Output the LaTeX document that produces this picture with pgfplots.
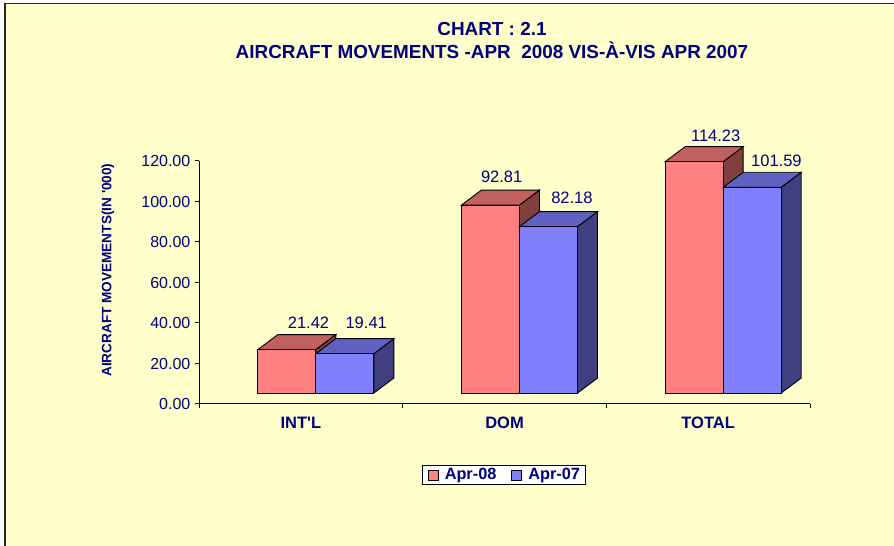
\documentclass[border=0pt]{standalone}
\usepackage{fontspec}
\setmainfont{Liberation Sans}
\usepackage{pgfplots}
\pgfplotsset{compat=1.18}
\definecolor{bg}{HTML}{FFFFCC}
\definecolor{navy}{HTML}{000080}
\definecolor{redF}{HTML}{FF8080}
\definecolor{redT}{HTML}{C06060}
\definecolor{redS}{HTML}{804040}
\definecolor{bluF}{HTML}{8080FF}
\definecolor{bluT}{HTML}{6060C0}
\definecolor{bluS}{HTML}{404080}
\pgfplotsset{
  face/.style={draw=black, line width=0.9pt, forget plot},
  frame/.style={scale only axis, width=611pt, height=243pt, at={(199pt,142pt)}, anchor=south west, xmin=-0.5, xmax=2.5},
}
\begin{document}
\begin{tikzpicture}
\path[use as bounding box] (0,0) rectangle (894pt,546pt);
\fill[white] (0,0) rectangle (894pt,546pt);
\fill[bg] (5pt,0) rectangle (894pt,542.5pt);
\draw[line width=1.5pt, black!85] (5pt,0) -- (5pt,542.5pt) -- (894pt,542.5pt);

\begin{axis}[frame, ymin=0, ymax=120,
  axis x line*=bottom, axis y line*=left,
  axis line style={-, black, line width=1pt},
  tick align=outside, major tick length=4.5pt,
  tick style={black, line width=1pt},
  xtick={-0.5,0.5,1.5,2.5}, xticklabels={},
  extra x ticks={0,1,2},
  extra x tick labels={INT\textquotesingle L, DOM, TOTAL},
  extra x tick style={major tick length=0pt, tick label style={font=\fontsize{16.5}{18}\selectfont\bfseries, text=navy, inner sep=0pt, yshift=-13pt}},
  ytick={0,20,...,120},
  yticklabel style={font=\fontsize{16}{18}\selectfont, text=navy, inner sep=0pt, xshift=-4pt,
    /pgf/number format/.cd, fixed, fixed zerofill, precision=2, assume math mode=true},
  ylabel={AIRCRAFT MOVEMENTS(IN \textquotesingle 000)},
  ylabel style={at={(axis description cs:-0.149,0.551)}, anchor=center, font=\fontsize{13.6}{15}\selectfont\bfseries, text=navy, inner sep=0pt},
  title={CHART : 2.1\\AIRCRAFT MOVEMENTS -APR\ \ 2008 VIS-À-VIS APR 2007},
  title style={at={(axis description cs:0.4795,1.546)}, anchor=north, align=center, font=\fontsize{18.9}{22.3}\selectfont\bfseries, text=navy, inner sep=0pt},
]
\addplot[draw=none, forget plot] coordinates {(0,0)};
\end{axis}

\begin{axis}[frame, ymin=-5.432, ymax=114.568, hide axis, clip=false,
  legend style={at={(axis description cs:0.499,-0.292)}, anchor=center, draw=black, fill=white, line width=0.8pt,
    font=\fontsize{16.3}{18}\selectfont\bfseries, text=navy, legend columns=2,
    inner xsep=5.5pt, inner ysep=1pt,
    nodes={inner xsep=0pt, inner ysep=2pt},
    /tikz/every odd column/.append style={column sep=6pt},
    /tikz/every even column/.append style={column sep=15pt}},
]
% ---- Apr-08 (red) ----
\addplot[face, fill=redS] coordinates {(0.0736,0) (0.0736,21.42) (0.1718,28.83) (0.1718,7.41)} -- cycle;
\addplot[face, fill=redT] coordinates {(-0.2114,21.42) (0.0736,21.42) (0.1718,28.83) (-0.1132,28.83)} -- cycle;
\addplot[face, fill=redS] coordinates {(1.0736,0) (1.0736,92.81) (1.1718,100.22) (1.1718,7.41)} -- cycle;
\addplot[face, fill=redT] coordinates {(0.7886,92.81) (1.0736,92.81) (1.1718,100.22) (0.8868,100.22)} -- cycle;
\addplot[face, fill=redS] coordinates {(2.0736,0) (2.0736,114.23) (2.1718,121.64) (2.1718,7.41)} -- cycle;
\addplot[face, fill=redT] coordinates {(1.7886,114.23) (2.0736,114.23) (2.1718,121.64) (1.8868,121.64)} -- cycle;
\addplot[ybar, bar width=0.285, bar shift=-0.0689, fill=redF, draw=black, line width=0.9pt, forget plot]
  coordinates {(0,21.42) (1,92.81) (2,114.23)};
% ---- Apr-07 (blue) ----
\addplot[face, fill=bluS] coordinates {(0.3586,0) (0.3586,19.41) (0.4568,26.82) (0.4568,7.41)} -- cycle;
\addplot[face, fill=bluT] coordinates {(0.0736,19.41) (0.3586,19.41) (0.4568,26.82) (0.1718,26.82)} -- cycle;
\addplot[face, fill=bluS] coordinates {(1.3586,0) (1.3586,82.18) (1.4568,89.59) (1.4568,7.41)} -- cycle;
\addplot[face, fill=bluT] coordinates {(1.0736,82.18) (1.3586,82.18) (1.4568,89.59) (1.1718,89.59)} -- cycle;
\addplot[face, fill=bluS] coordinates {(2.3586,0) (2.3586,101.59) (2.4568,109.00) (2.4568,7.41)} -- cycle;
\addplot[face, fill=bluT] coordinates {(2.0736,101.59) (2.3586,101.59) (2.4568,109.00) (2.1718,109.00)} -- cycle;
\addplot[ybar, bar width=0.285, bar shift=0.2161, fill=bluF, draw=black, line width=0.9pt, forget plot]
  coordinates {(0,19.41) (1,82.18) (2,101.59)};
% ---- value labels ----
\addplot[draw=none, mark=none, forget plot, nodes near coords, point meta=explicit symbolic,
  every node near coord/.append style={anchor=center, font=\fontsize{16.5}{18}\selectfont, text=navy, inner sep=0pt}]
  coordinates {(0.0376,34.57)[21.42] (0.321,34.57)[19.41] (0.986,106.8)[92.81]
               (1.331,96.6)[82.18] (2.037,127.1)[114.23] (2.335,114.7)[101.59]};
% ---- legend ----
\addlegendimage{legend image code/.code={\draw[fill=redF, draw=black, line width=0.9pt] (0pt,-5pt) rectangle (10pt,5pt);}}
\addlegendentry{Apr-08}
\addlegendimage{legend image code/.code={\draw[fill=bluF, draw=black, line width=0.9pt] (0pt,-5pt) rectangle (10pt,5pt);}}
\addlegendentry{Apr-07}
\end{axis}
\end{tikzpicture}
\end{document}
